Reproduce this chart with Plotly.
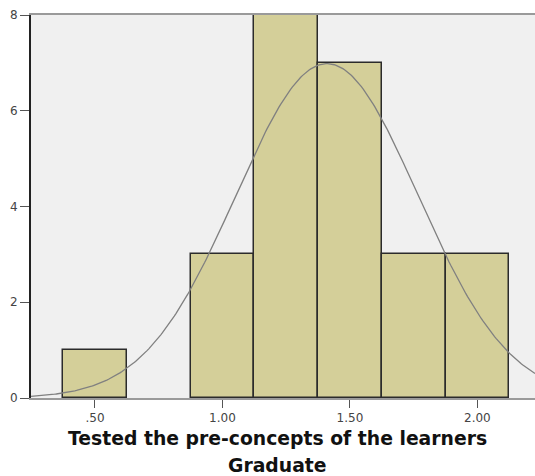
import numpy as np
import plotly.graph_objects as go

# Histogram data (bin centers and counts)
bin_centers = [0.50, 0.75, 1.00, 1.25, 1.50, 1.75, 2.00]
counts = [1, 0, 3, 8, 7, 3, 3]
bin_width = 0.25

# Normal curve parameters (SPSS fitted normal)
n_obs = 25
mean_val = 1.41
sd_val = 0.357

x_tickvals = [0.5, 1.0, 1.5, 2.0]
x_ticktext = [".50", "1.00", "1.50", "2.00"]
y_tickvals = [0, 2, 4, 6, 8]
title_lines = ["Tested the pre-concepts of the learners", "Graduate"]

x_range = [0.249, 2.226]

xs = np.linspace(x_range[0], x_range[1], 300)
ys = n_obs * bin_width / (sd_val * np.sqrt(2 * np.pi)) * np.exp(-0.5 * ((xs - mean_val) / sd_val) ** 2)

fig = go.Figure()
fig.add_trace(go.Bar(
    x=bin_centers, y=counts, width=bin_width,
    marker=dict(color="#d4cf99",
                line=dict(color="#2b2b2b", width=[1.5 if c > 0 else 0 for c in counts])),
    showlegend=False, hoverinfo="skip",
))
fig.add_trace(go.Scatter(
    x=xs, y=ys, mode="lines",
    line=dict(color="#808080", width=1.3),
    showlegend=False, hoverinfo="skip",
))

for i, line in enumerate(title_lines):
    fig.add_annotation(
        text="<b>%s</b>" % line, xref="paper", yref="paper", x=0.49, y=0,
        xanchor="center", yanchor="middle", yshift=-40 - 27 * i, showarrow=False,
        font=dict(size=18.8, color="#111", family="DejaVu Sans, Verdana, sans-serif"),
    )

fig.update_layout(
    width=535, height=476,
    margin=dict(l=31, r=0, t=15, b=78),
    paper_bgcolor="white",
    plot_bgcolor="#f0f0f0",
    bargap=0,
    font=dict(family="DejaVu Sans, Verdana, sans-serif", size=12, color="#444"),
    xaxis=dict(
        range=x_range, tickvals=x_tickvals, ticktext=x_ticktext,
        showgrid=False, zeroline=False, automargin=False,
        showline=True, linecolor="#9a9a9a", linewidth=1.5, mirror=True,
        ticks="outside", ticklen=8, tickcolor="#555", tickwidth=1,
        tickfont=dict(size=12, color="#444"),
    ),
    yaxis=dict(
        range=[0, 8], tickvals=y_tickvals,
        showgrid=False, zeroline=False, automargin=False,
        showline=True, linecolor="#222", linewidth=2,
        ticks="outside", ticklen=9, tickcolor="#555", tickwidth=1,
        tickfont=dict(size=12, color="#444"),
    ),
)

fig.write_html("out.html", config={"displayModeBar": False},
               post_script="document.body.style.margin='0';")
